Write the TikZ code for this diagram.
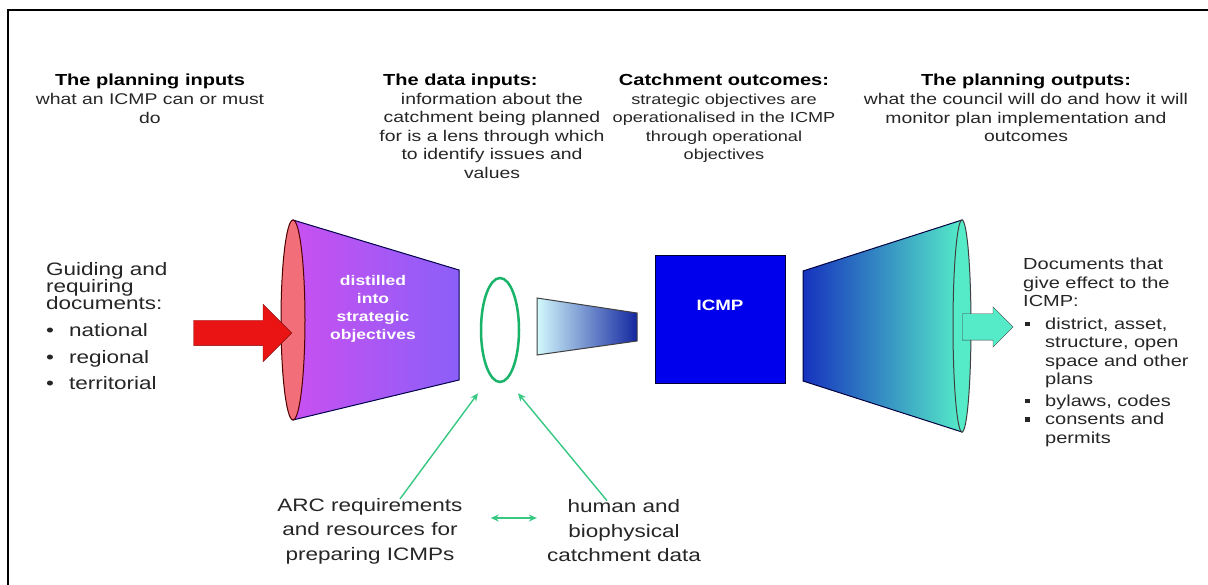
\documentclass[tikz,border=0pt]{standalone}
\usepackage{fontspec}
\setmainfont{Liberation Sans}[FakeStretch=1.25]
\usetikzlibrary{positioning,shapes.geometric,shapes.arrows,arrows.meta}

\definecolor{lensgreen}{RGB}{25,180,105}
\definecolor{linkgreen}{RGB}{55,200,130}
\definecolor{conepink}{RGB}{200,80,240}
\definecolor{coneviolet}{RGB}{140,95,248}
\definecolor{facesalmon}{RGB}{242,110,120}
\definecolor{icmpblue}{RGB}{0,0,236}
\definecolor{deepblue}{RGB}{22,50,190}
\definecolor{aqua}{RGB}{85,235,200}

\newcommand{\dotitem}[1]{\makebox[23pt][l]{\textbullet}#1}
\newcommand{\sqitem}[1]{\makebox[22pt][l]{\hspace{2pt}\raisebox{3pt}{\rule{4.5pt}{4.5pt}}}#1}

\begin{document}
\begin{tikzpicture}[x=1pt,y=-1pt,
                headtext/.style={font=\fontsize{16}{18}\selectfont\bfseries, inner sep=0pt, text height=13pt, text depth=4pt},
                bodytext/.style={font=\fontsize{15.5}{18.5}\selectfont, align=center, inner sep=0pt, text=black!85},
                sidetext/.style={font=\fontsize{18}{17}\selectfont, align=left, inner sep=0pt, text=black!85},
                listtext/.style={font=\fontsize{16}{18.5}\selectfont, align=left, inner sep=0pt, text=black!85},
                basetext/.style={font=\fontsize{18}{24.5}\selectfont, align=center, inner sep=0pt, text=black!85},
                conetext/.style={font=\fontsize{14}{18}\selectfont\bfseries, align=center, inner sep=0pt, text=white},
                icmpbox/.style={rectangle, draw=black!80!blue, fill=icmpblue, minimum width=130pt, minimum height=128pt, inner sep=0pt},
                lensring/.style={ellipse, draw=lensgreen, line width=2.5pt, minimum width=38pt, minimum height=104pt, inner sep=0pt},
                redarrow/.style={single arrow, draw={rgb,255:red,130;green,10;blue,10}, fill={rgb,255:red,235;green,20;blue,20}, inner sep=12.5pt, single arrow head extend=16pt, minimum height=98pt},
                aquaarrow/.style={single arrow, draw=black!75, fill=aqua, inner sep=13pt, single arrow head extend=7pt, minimum height=51pt},
                link/.style={draw=linkgreen, line width=1.4pt, -{Stealth[length=8pt,width=7pt]}},
            ]
            \useasboundingbox (0,0) rectangle (1208,585);
            \fill[white] (0,0) rectangle (1208,585);
            \draw[line width=2pt] (1208,10) -- (8,10) -- (8,585);

            % top row of captions
            \node[headtext, anchor=north]      (inhead)      at (150,72)             {The planning inputs};
            \node[bodytext, below=4pt of inhead]                   (inbody)      {what an ICMP can or must\\do};
            \node[headtext, anchor=north west] (datahead)    at (383,72)             {The data inputs:};
            \node[bodytext, anchor=north]      (databody)    at (492,93)             {information about the\\catchment being planned\\for is a lens through which\\to identify issues and\\values};
            \node[headtext, anchor=north]      (outcomehead) at (724,72)             {Catchment outcomes:};
            \node[bodytext, font=\fontsize{14.5}{18.5}\selectfont, below=4pt of outcomehead] (outcomebody) {strategic objectives are\\operationalised in the ICMP\\through operational\\objectives};
            \node[headtext, anchor=north]      (outhead)     at (1026,72)            {The planning outputs:};
            \node[bodytext, below=4pt of outhead]                  (outbody)     {what the council will do and how it will\\monitor plan implementation and\\outcomes};

            % funnel in
            \draw[draw=black!70!blue, line width=1pt, left color=conepink, right color=coneviolet] (293,220) -- (459,270) -- (459,380) -- (293,420) -- cycle;
            \draw[draw=black!70!red, line width=1pt, fill=facesalmon] (293,320) ellipse [x radius=12, y radius=100];
            \node[conetext]                    (distil)      at (373,309)            {distilled\\into\\strategic\\objectives};
            \node[redarrow, anchor=tip]        (inarrow)     at (292,333)            {};

            % lens and beam
            \node[lensring]                    (lens)        at (500,330)            {};
            \draw[draw=black!75, line width=1pt, left color={rgb,255:red,210;green,248;blue,252}, right color={rgb,255:red,20;green,40;blue,160}] (537,298) -- (637,313) -- (637,341) -- (537,355) -- cycle;

            % plan
            \node[icmpbox]                     (icmp)        at (720,319)            {};
            \node[conetext, font=\fontsize{15}{18}\selectfont\bfseries] (icmplabel) at ([yshift=14pt]icmp.center) {ICMP};

            % funnel out
            \draw[draw=black!75!blue, line width=1pt, left color=deepblue, right color=aqua] (803,271) -- (962,220) -- (962,432) -- (803,381) -- cycle;
            \draw[draw=black!75, line width=1pt, fill=aqua] (962,326) ellipse [x radius=9, y radius=106];
            \node[aquaarrow, anchor=tail]      (outarrow)    at (962,327)            {};

            % side lists
            \node[sidetext, anchor=north west] (guide)       at (46,262)             {Guiding and\\requiring\\documents:\\[10pt]\dotitem{national}\\[10pt]\dotitem{regional}\\[9pt]\dotitem{territorial}};
            \node[listtext, anchor=north west] (effect)      at (1023,258)           {Documents that\\give effect to the\\ICMP:\\[4pt]\sqitem{district, asset,}\\\hspace*{22pt}structure, open\\\hspace*{22pt}space and other\\\hspace*{22pt}plans\\[3pt]\sqitem{bylaws, codes}\\\sqitem{consents and}\\\hspace*{22pt}permits};

            % data sources
            \node[basetext]                    (arc)         at (370,531)            {ARC requirements\\and resources for\\preparing ICMPs};
            \node[basetext]                    (human)       at (624,531)            {human and\\biophysical\\catchment data};

            \draw[link] ([xshift=30pt,yshift=-1pt]arc.north) -- ([xshift=-22pt,yshift=-10pt]lens.south);
            \draw[link] ([xshift=-17pt,yshift=-1pt]human.north) -- ([xshift=18pt,yshift=-10pt]lens.south);
            \draw[link, {Stealth[length=8pt,width=7pt]}-{Stealth[length=8pt,width=7pt]}] ([xshift=28pt,yshift=13pt]arc.east) -- ([xshift=-10pt,yshift=13pt]human.west);
        \end{tikzpicture}
\end{document}
